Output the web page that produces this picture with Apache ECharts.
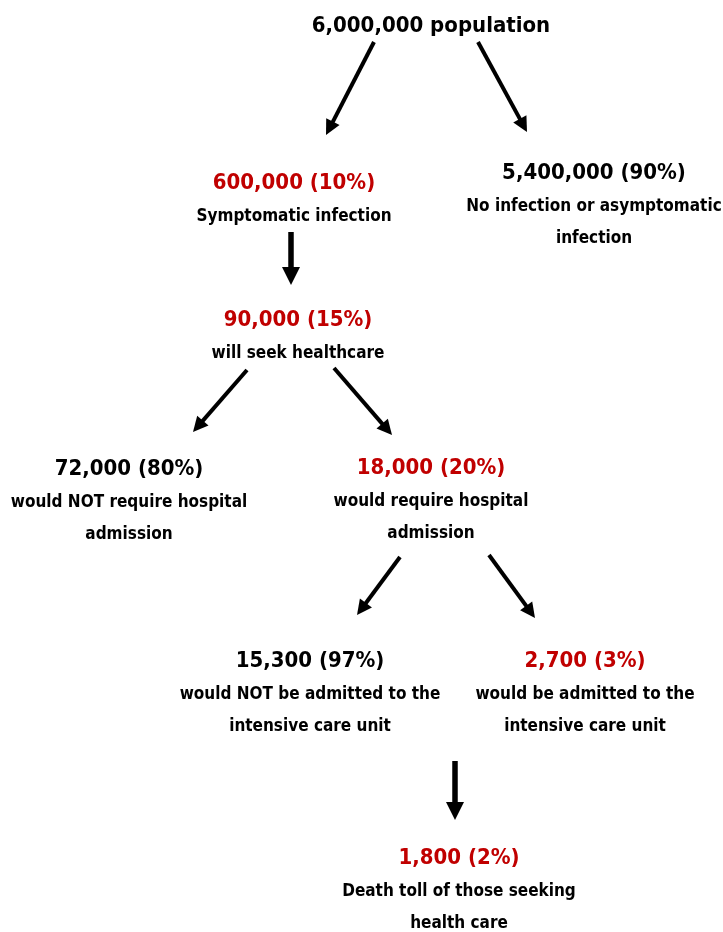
<!DOCTYPE html>
<html>
<head>
<meta charset="utf-8">
<script src="https://cdn.jsdelivr.net/npm/echarts@6/dist/echarts.min.js"></script>
<style>html,body{margin:0;padding:0;background:#fff}#c{width:723px;height:932px}</style>
</head>
<body>
<div id="c"></div>
<script>
// ---- data ----
const nodeCounts = [6000000, 600000, 5400000, 90000, 72000, 18000, 15300, 2700, 1800];
const nodePercents = [null, 10, 90, 15, 80, 20, 97, 3, 2];
const nodeDescriptions = [
  'population',
  'Symptomatic infection',
  'No infection or asymptomatic\ninfection',
  'will seek healthcare',
  'would NOT require hospital\nadmission',
  'would require hospital\nadmission',
  'would NOT be admitted to the\nintensive care unit',
  'would be admitted to the\nintensive care unit',
  'Death toll of those seeking\nhealth care'
];
const links = [[0,1],[0,2],[1,3],[3,4],[3,5],[5,6],[5,7],[7,8]];
const mainPath = [1, 3, 5, 7, 8];

// ---- layout (positions in pixel-space of the hidden axes) ----
const nodeAnchor = [[431,12],[294,166],[594,156],[298,303],[129,452],[431,451],[310,644],[585,644],[459,841]];
// [start, arrow tip]
const arrowPaths = [
  [[374,42],[326,135]],
  [[478,42],[527,132]],
  [[291,232],[291,285]],
  [[247,370],[193,432]],
  [[334,368],[392,435]],
  [[400,557],[357,615]],
  [[489,555],[535,618]],
  [[455,761],[455,820]]
];

const RED = '#c00000';
const FONT = '"DejaVu Sans Condensed", "DejaVu Sans", sans-serif';

function fmt(n){ return n.toLocaleString('en-US'); }

const nodeData = nodeCounts.map((c, i) => {
  let text;
  if (i === 0) {
    text = '{t|' + fmt(c) + ' ' + nodeDescriptions[i] + '}';
  } else {
    const head = fmt(c) + ' (' + nodePercents[i] + '%)';
    const hk = mainPath.includes(i) ? 'hr' : 'hb';
    text = '{' + hk + '|' + head + '}\n' + nodeDescriptions[i].split('\n').map(s => '{d|' + s + '}').join('\n');
  }
  return { value: nodeAnchor[i], label: { formatter: text } };
});

function shorten(p, by) {
  const [a, b] = p;
  const dx = b[0] - a[0], dy = b[1] - a[1];
  const L = Math.hypot(dx, dy);
  return [a, [b[0] - dx / L * by, b[1] - dy / L * by]];
}
const isVertical = p => p[0][0] === p[1][0];
const vertHead = [17, 18], diagHead = [14, 15];
const vertArrows = arrowPaths.filter(isVertical).map(p => ({ coords: shorten(p, vertHead[1] / 2) }));
const diagArrows = arrowPaths.filter(p => !isVertical(p)).map(p => ({ coords: shorten(p, diagHead[1] / 2) }));

const chart = echarts.init(document.getElementById('c'));
chart.setOption({
  animation: false,
  backgroundColor: '#fff',
  grid: { left: 0, right: 0, top: 0, bottom: 0 },
  xAxis: { type: 'value', min: 0, max: 723, show: false },
  yAxis: { type: 'value', min: 0, max: 932, inverse: true, show: false },
  series: [
    {
      type: 'lines',
      coordinateSystem: 'cartesian2d',
      symbol: ['none', 'triangle'],
      symbolSize: vertHead,
      lineStyle: { color: '#000', width: 5.5, opacity: 1, curveness: 0 },
      itemStyle: { color: '#000' },
      data: vertArrows,
      z: 1
    },
    {
      type: 'lines',
      coordinateSystem: 'cartesian2d',
      symbol: ['none', 'triangle'],
      symbolSize: diagHead,
      lineStyle: { color: '#000', width: 4, opacity: 1, curveness: 0 },
      itemStyle: { color: '#000' },
      data: diagArrows,
      z: 1
    },
    {
      type: 'scatter',
      symbolSize: 0,
      itemStyle: { opacity: 1 },
      data: nodeData,
      z: 2,
      label: {
        show: true,
        opacity: 1,
        position: [0, 0],
        align: 'center',
        verticalAlign: 'top',
        fontFamily: FONT,
        color: '#000',
        rich: {
          t: { fontFamily: FONT, fontWeight: 'bold', fontSize: 22, color: '#000', lineHeight: 28, align: 'center' },
          hr: { fontFamily: FONT, fontWeight: 'bold', fontSize: 22, color: RED, lineHeight: 35, align: 'center' },
          hb: { fontFamily: FONT, fontWeight: 'bold', fontSize: 22, color: '#000', lineHeight: 35, align: 'center' },
          d: { fontFamily: FONT, fontWeight: 'bold', fontSize: 17, color: '#000', lineHeight: 32, align: 'center' }
        }
      }
    }
  ]
});
</script>
</body>
</html>
